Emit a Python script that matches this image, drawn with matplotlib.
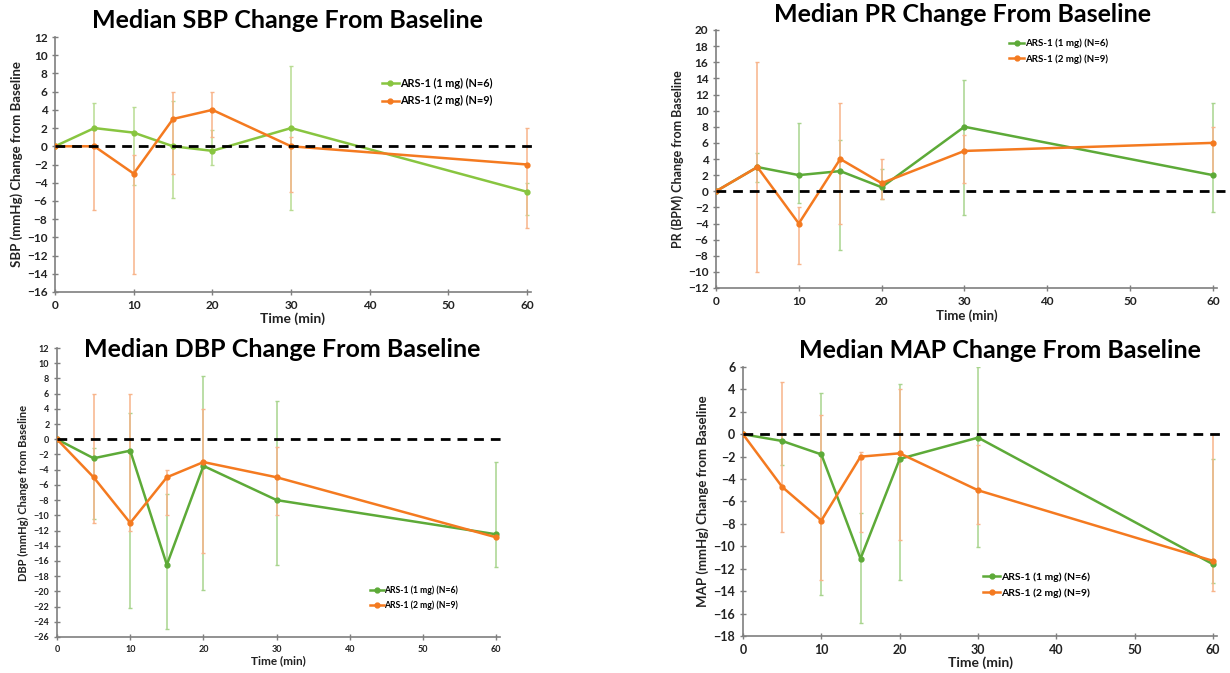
import matplotlib
matplotlib.use('Agg')
import matplotlib.pyplot as plt

plt.rcParams['font.family'] = ['Lato', 'DejaVu Sans']

# time points (min)
times = [0, 5, 10, 15, 20, 30, 60]
labels = ['ARS-1 (1 mg) (N=6)', 'ARS-1 (2 mg) (N=9)']

# SBP
sbp_1mg = [0, 2, 1.5, 0, -0.5, 2, -5]
sbp_1mg_hi = [0, 4.8, 4.3, 5, 1.8, 8.8, -4]
sbp_1mg_lo = [0, 0, -4.3, -5.7, -2, -7, -7.5]
sbp_2mg = [0, 0, -3, 3, 4, 0, -2]
sbp_2mg_hi = [0, 2, -1, 6, 6, 1, 2]
sbp_2mg_lo = [0, -7, -14, -3, 1, -5, -9]

# PR
pr_1mg = [0, 3, 2, 2.5, 0.5, 8, 2]
pr_1mg_hi = [0, 4.8, 8.5, 6.3, 2.8, 13.8, 11]
pr_1mg_lo = [0, 1.2, -1.5, -7.3, -1, -3, -2.6]
pr_2mg = [0, 3, -4, 4, 1, 5, 6]
pr_2mg_hi = [0, 16, -2, 11, 4, 7, 8]
pr_2mg_lo = [0, -10, -9, -4, -1, 1, 2]

# DBP
dbp_1mg = [0, -2.5, -1.5, -16.5, -3.5, -8, -12.5]
dbp_1mg_hi = [0, -1.2, 3.5, -7.2, 8.3, 5, -3]
dbp_1mg_lo = [0, -10.5, -22.2, -25, -19.8, -16.5, -16.8]
dbp_2mg = [0, -5, -11, -5, -3, -5, -12.9]
dbp_2mg_hi = [0, 6, 6, -4, 4, -1, -12.9]
dbp_2mg_lo = [0, -11, -12, -10, -15, -10, -12.9]

# MAP
map_1mg = [0, -0.6, -1.8, -11.1, -2.2, -0.3, -11.6]
map_1mg_hi = [0, 0, 3.7, -7, 4.5, 6, -2.2]
map_1mg_lo = [0, -2.7, -14.3, -16.8, -13, -10.1, -13.3]
map_2mg = [0, -4.7, -7.7, -2, -1.7, -5, -11.3]
map_2mg_hi = [0, 4.7, 1.7, -1.6, 4, -1, 0]
map_2mg_lo = [0, -8.7, -13, -8.7, -9.4, -8, -14]

ORANGE = '#f47a20'
ORANGE_ERR = '#f8b48a'


def draw_panel(rect, title, title_xy, ylabel, ylim, ystep, s1, s2, green, green_err,
               leg_xy, xlabel_y, fs_tick=9, fs_ylab=9.5, fs_leg=7):
    ax = fig.add_axes(rect)
    for (med, hi, lo), col, ecol, lab in [(s1, green, green_err, labels[0]),
                                           (s2, ORANGE, ORANGE_ERR, labels[1])]:
        yerr = [[m - l for m, l in zip(med, lo)], [h - m for m, h in zip(med, hi)]]
        ax.errorbar(times, med, yerr=yerr, fmt='none', ecolor=ecol, elinewidth=1.1,
                    capsize=1.5, capthick=1, zorder=2)
        ax.plot(times, med, color=col, lw=1.8, marker='o', ms=3.5, label=lab, zorder=3)
    ax.axhline(0, color='black', ls=(0, (3.5, 2.5)), lw=2, zorder=4, clip_on=False,
               xmax=1.015)
    ax.set_xlim(0, 60.5)
    ax.set_ylim(*ylim)
    ax.set_xticks(range(0, 61, 10))
    ax.set_yticks(range(ylim[0], ylim[1] + 1, ystep))
    for s in ['top', 'right']:
        ax.spines[s].set_visible(False)
    for s in ['left', 'bottom']:
        ax.spines[s].set_color('#7f7f7f')
        ax.spines[s].set_linewidth(1.2)
    ax.tick_params(direction='inout', length=5, color='#7f7f7f', width=1,
                   labelsize=fs_tick, pad=3)
    for t in ax.get_xticklabels() + ax.get_yticklabels():
        t.set_fontweight('bold')
        t.set_color('#222222')
    ax.set_ylabel(ylabel, fontsize=fs_ylab, fontweight='bold', color='#222222', labelpad=3)
    fig.text(rect[0] + rect[2] / 2, xlabel_y, 'Time (min)', ha='center', va='center',
             fontsize=fs_ylab + 0.5, fontweight='bold', color='#222222')
    fig.text(title_xy[0], title_xy[1], title, ha='center', va='center', fontsize=18,
             fontweight='bold', color='black')
    ax.legend(loc='upper left', bbox_to_anchor=leg_xy, bbox_transform=fig.transFigure,
              frameon=False, handlelength=1.6, handletextpad=0.1,
              labelspacing=0.6, prop={'weight': 'bold', 'size': fs_leg})
    return ax


W, H = 1230, 673
fig = plt.figure(figsize=(12.3, 6.73), dpi=100)


def r(x0, y0, x1, y1):
    return [x0 / W, 1 - y1 / H, (x1 - x0) / W, (y1 - y0) / H]


draw_panel(r(55, 37, 531, 292), 'Median SBP Change From Baseline', (287 / W, 1 - 21 / H),
           'SBP (mmHg) Change from Baseline', (-16, 12), 2,
           (sbp_1mg, sbp_1mg_hi, sbp_1mg_lo), (sbp_2mg, sbp_2mg_hi, sbp_2mg_lo),
           '#88c540', '#b8dc92', (372 / W, 1 - 68 / H), 1 - 319 / H,
           fs_tick=8.5, fs_ylab=9.5, fs_leg=7.8)

draw_panel(r(716, 30, 1217, 288), 'Median PR Change From Baseline', (963 / W, 1 - 15 / H),
           'PR (BPM) Change from Baseline', (-12, 20), 2,
           (pr_1mg, pr_1mg_hi, pr_1mg_lo), (pr_2mg, pr_2mg_hi, pr_2mg_lo),
           '#5daa38', '#a8d48e', (1000 / W, 1 - 30 / H), 1 - 316 / H,
           fs_tick=8.5, fs_ylab=9, fs_leg=7)

draw_panel(r(57, 348, 500, 637), 'Median DBP Change From Baseline', (282 / W, 1 - 349 / H),
           'DBP (mmHg) Change from Baseline', (-26, 12), 2,
           (dbp_1mg, dbp_1mg_hi, dbp_1mg_lo), (dbp_2mg, dbp_2mg_hi, dbp_2mg_lo),
           '#5daa38', '#a8d48e', (362 / W, 1 - 578 / H), 1 - 661 / H,
           fs_tick=6.5, fs_ylab=8, fs_leg=6.2)

draw_panel(r(743, 367, 1217, 636), 'Median MAP Change From Baseline', (1000 / W, 1 - 350 / H),
           'MAP (mmHg) Change from Baseline', (-18, 6), 2,
           (map_1mg, map_1mg_hi, map_1mg_lo), (map_2mg, map_2mg_hi, map_2mg_lo),
           '#5daa38', '#a8d48e', (974 / W, 1 - 563 / H), 1 - 663 / H,
           fs_tick=9, fs_ylab=9.5, fs_leg=7.5)

fig.savefig('out.png', dpi=100)
